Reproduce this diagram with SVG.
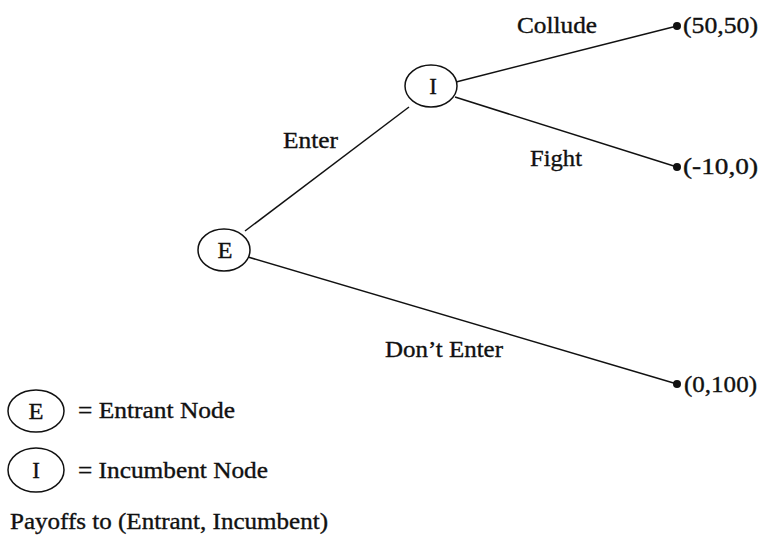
<svg xmlns="http://www.w3.org/2000/svg" width="768" height="539" viewBox="0 0 768 539">
<style>
text{font-family:"Liberation Serif","Times New Roman",serif;font-size:23px;fill:#111;stroke:#111;stroke-width:0.35}
.n{fill:#fff;stroke:#111;stroke-width:1.5}
.e{stroke:#111;stroke-width:1.5;fill:none}
.d{fill:#111}
</style>
<rect width="768" height="539" fill="#fff"/>
<g id="connectors">
<line class="e" x1="245" y1="231" x2="409" y2="107"/>
<line class="e" x1="248" y1="257" x2="677" y2="384"/>
<line class="e" x1="456" y1="82" x2="677" y2="26"/>
<line class="e" x1="455" y1="97" x2="677" y2="167"/>
<text x="283" y="148" textLength="55" lengthAdjust="spacingAndGlyphs">Enter</text>
<text x="517" y="33" textLength="80" lengthAdjust="spacingAndGlyphs">Collude</text>
<text x="530" y="166" textLength="52" lengthAdjust="spacingAndGlyphs">Fight</text>
<text x="385" y="357" textLength="118" lengthAdjust="spacingAndGlyphs">Don’t Enter</text>
</g>
<g id="node-E"><ellipse class="n" cx="224" cy="250" rx="26" ry="21"/><text x="225" y="258" text-anchor="middle" textLength="15" lengthAdjust="spacingAndGlyphs">E</text></g>
<g id="node-I"><ellipse class="n" cx="431" cy="86" rx="26" ry="21"/><text x="433" y="94" text-anchor="middle">I</text></g>
<g id="payoff-collude"><circle class="d" cx="677" cy="26" r="4"/><text x="683" y="33" textLength="75" lengthAdjust="spacingAndGlyphs">(50,50)</text></g>
<g id="payoff-fight"><circle class="d" cx="677" cy="167" r="4"/><text x="683" y="174" textLength="75" lengthAdjust="spacingAndGlyphs">(-10,0)</text></g>
<g id="payoff-stay"><circle class="d" cx="677" cy="384" r="4"/><text x="684" y="392" textLength="73" lengthAdjust="spacingAndGlyphs">(0,100)</text></g>
<g id="legend">
<ellipse class="n" cx="36" cy="411" rx="28" ry="21"/><text x="36" y="419" text-anchor="middle" textLength="15" lengthAdjust="spacingAndGlyphs">E</text>
<text x="78" y="418" textLength="157" lengthAdjust="spacingAndGlyphs">= Entrant Node</text>
<ellipse class="n" cx="36" cy="470" rx="28" ry="22"/><text x="36" y="478" text-anchor="middle">I</text>
<text x="78" y="478" textLength="190" lengthAdjust="spacingAndGlyphs">= Incumbent Node</text>
<text x="10" y="529" textLength="318" lengthAdjust="spacingAndGlyphs">Payoffs to (Entrant, Incumbent)</text>
</g>
</svg>
